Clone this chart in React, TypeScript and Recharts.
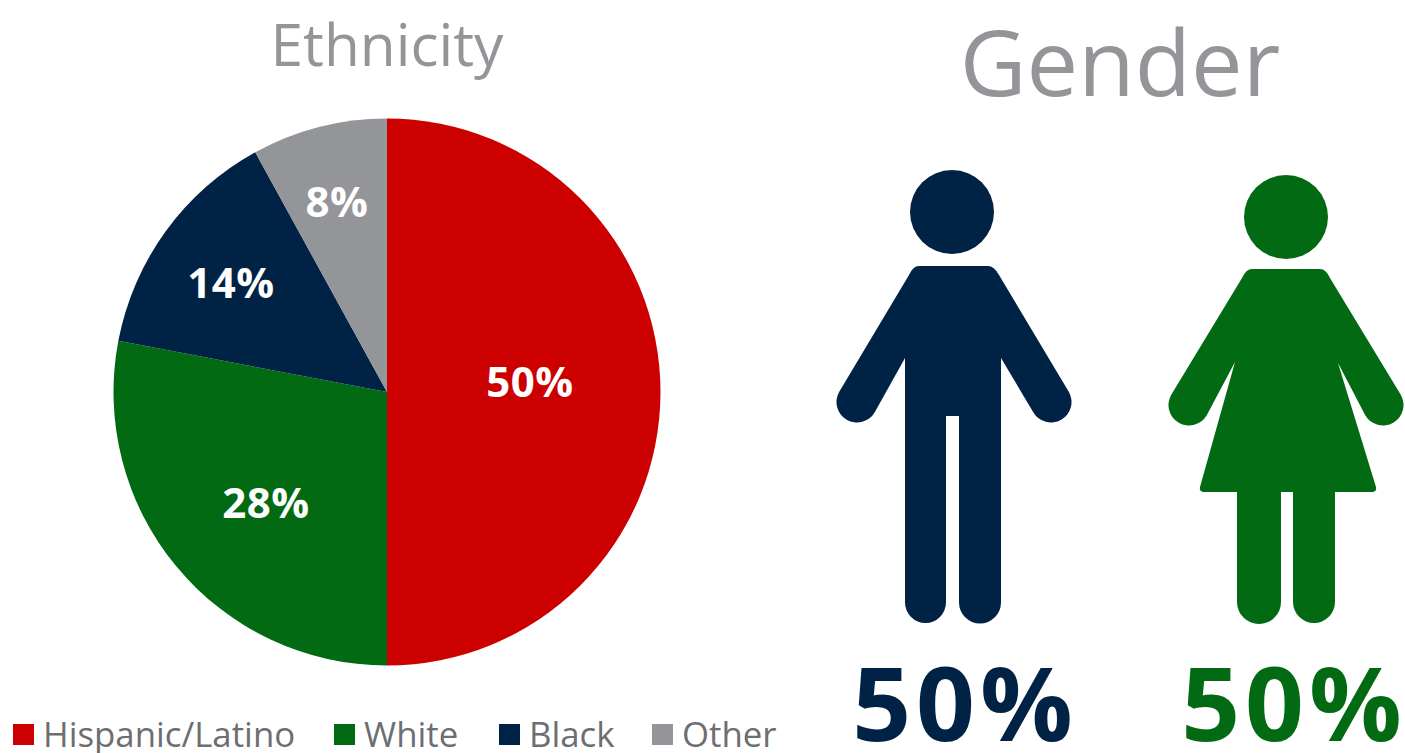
import React from 'react';
import { PieChart, Pie, Cell } from 'recharts';

const categories = ['Hispanic/Latino', 'White', 'Black', 'Other'];
const shares = [50, 28, 14, 8];
const sliceColors = ['#cc0000', '#036a14', '#002244', '#939598'];

const genders = ['Male', 'Female'];
const genderShares = [50, 50];
const genderColors = ['#002244', '#036a14'];

const data = categories.map((name, i) => ({ name, value: shares[i] }));
const FONT = '"Open Sans", sans-serif';

// label spots relative to the pie centre, they are not on a common radius in the original
const labelOffsets = [[143, -12], [-121, 109], [-156, -111], [-50, -192]];

const renderLabel = (props: any) => {
  const { cx, cy, index, value } = props;
  const [dx, dy] = labelOffsets[index];
  return (
    <text x={cx + dx} y={cy + dy} fill="#fff" textAnchor="middle" dominantBaseline="central" fontFamily={FONT} fontWeight={700} fontSize={42} letterSpacing={0.5}>
      {value}%
    </text>
  );
};

const Man = ({ color }: { color: string }) => (
  <svg style={{ position: 'absolute', left: 830, top: 165 }} width={250} height={465} viewBox="0 0 250 465">
    <circle cx={122} cy={47} r={42} fill={color} />
    <path d="M89 101 H158 Q164 101 169 110 L238.75 226.7 A20.5 20.5 0 0 1 203.25 247.3 L171 193 V437.5 A21 21 0 0 1 129 437.5 V251 H116 V437.5 A20.5 20.5 0 0 1 75 437.5 V193 L44.75 247.3 A20.5 20.5 0 0 1 9.25 226.7 L79 110 Q83 101 89 101 Z" fill={color} />
  </svg>
);

const Woman = ({ color }: { color: string }) => (
  <svg style={{ position: 'absolute', left: 1160, top: 165 }} width={245} height={465} viewBox="0 0 245 465">
    <circle cx={126} cy={52} r={42} fill={color} />
    <path d="M92 104 H160 Q166 104 170 113 L240.75 229.7 A20.5 20.5 0 0 1 205.25 250.3 L178 198 L216 322 Q217 327 212 327 H175 V437 A21 21 0 0 1 133 437 V327 H121 V437 A22 22 0 0 1 77 437 V327 H44 Q39 327 40 322 L75 197 L46.75 250.3 A20.5 20.5 0 0 1 11.25 229.7 L82 113 Q86 104 92 104 Z" fill={color} />
  </svg>
);

const LegendRow = () => {
  const xs = [13, 334, 499, 652];
  return (
    <>
      {categories.map((c, i) => (
        <div key={c} style={{ position: 'absolute', left: xs[i], top: 715, display: 'flex', alignItems: 'center', fontFamily: FONT, fontSize: 34.8, color: '#6d6e71', whiteSpace: 'nowrap', lineHeight: '38px' }}>
          <span style={{ display: 'inline-block', width: 21, height: 21, background: sliceColors[i], marginRight: 9 }} />
          {c}
        </div>
      ))}
    </>
  );
};

export default function App() {
  return (
    <div style={{ position: 'fixed', left: 0, top: 0, width: 1405, height: 753, background: '#fff', overflow: 'hidden' }}>
      <div style={{ position: 'absolute', left: 0, width: 774, top: 5, textAlign: 'center', fontFamily: FONT, fontSize: 58.5, color: '#939598', lineHeight: '76px' }}>Ethnicity</div>
      <div style={{ position: 'absolute', left: 840, width: 560, top: 6, textAlign: 'center', fontFamily: FONT, fontSize: 92, color: '#939598', lineHeight: '110px' }}>Gender</div>
      <div style={{ position: 'absolute', left: 0, top: 0 }}>
        <PieChart width={780} height={700} margin={{ top: 0, right: 0, bottom: 0, left: 0 }}>
          <Pie data={data} dataKey="value" nameKey="name" cx={387} cy={392} outerRadius={273.5} startAngle={90} endAngle={-270} stroke="none" label={renderLabel} labelLine={false} isAnimationActive={false}>
            {data.map((d, i) => <Cell key={d.name} fill={sliceColors[i]} />)}
          </Pie>
        </PieChart>
      </div>
      <Man color={genderColors[0]} />
      <Woman color={genderColors[1]} />
      {genders.map((g, i) => (
        <div key={g} style={{ position: 'absolute', left: [965, 1294][i] - 200, width: 400, top: 653, textAlign: 'center', fontFamily: FONT, fontWeight: 700, fontSize: 103, letterSpacing: 5, lineHeight: '96px', color: genderColors[i] }}>
          {genderShares[i]}%
        </div>
      ))}
      <LegendRow />
    </div>
  );
}
